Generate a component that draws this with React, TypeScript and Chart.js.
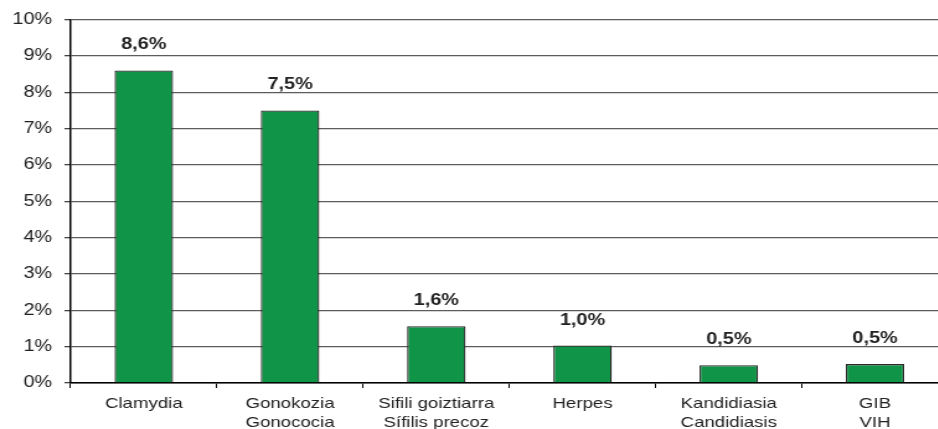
import React, { useEffect, useRef } from 'react';
import { Chart, registerables } from 'chart.js';

Chart.register(...registerables);

const categories: string[][] = [
  ['Clamydia'],
  ['Gonokozia', 'Gonococia'],
  ['Sifili goiztiarra', 'Sífilis precoz'],
  ['Herpes'],
  ['Kandidiasia', 'Candidiasis'],
  ['GIB', 'VIH'],
];
const values: number[] = [8.6, 7.5, 1.56, 1.03, 0.49, 0.52];
const yMin = 0;
const yMax = 10;
const yStep = 1;

const fmt = (v: number) => v.toFixed(1).replace('.', ',') + '%';

const STRETCH = 1.24;
const CSS_W = 950;
const CSS_H = 429;
const CANVAS_W = Math.round(CSS_W / STRETCH);
const FONT = '"Liberation Sans", Arial, sans-serif';

const valueLabels = {
  id: 'valueLabels',
  afterDatasetsDraw(chart: any) {
    const ctx = chart.ctx;
    const meta = chart.getDatasetMeta(0);
    ctx.save();
    ctx.font = `bold 16px ${FONT}`;
    ctx.fillStyle = '#222';
    ctx.textAlign = 'center';
    ctx.textBaseline = 'alphabetic';
    meta.data.forEach((bar: any, i: number) => {
      ctx.fillText(fmt(values[i]), bar.x, bar.y - 21);
    });
    ctx.restore();
  },
};

export default function App() {
  const ref = useRef<HTMLCanvasElement>(null);
  useEffect(() => {
    if (!ref.current) return;
    const chart = new Chart(ref.current, {
      type: 'bar',
      data: {
        labels: categories,
        datasets: [
          {
            data: values,
            backgroundColor: '#109447',
            borderColor: '#2a2a2a',
            borderWidth: 1.3,
            barPercentage: 0.4,
            categoryPercentage: 1,
          },
        ],
      },
      options: {
        responsive: false,
        animation: false,
        layout: { padding: { top: 17.5, right: 1.5, bottom: 0, left: 0 } },
        plugins: { legend: { display: false }, tooltip: { enabled: false } },
        scales: {
          x: {
            afterFit: (s: any) => { s.height = 46; },
            grid: { drawOnChartArea: false, tickLength: 5, color: '#000', offset: true },
            border: { color: '#000', width: 1.5 },
            ticks: { color: '#222', font: { family: FONT, size: 15, lineHeight: 1.3 }, padding: 6, maxRotation: 0, autoSkip: false },
          },
          y: {
            min: yMin,
            max: yMax,
            afterFit: (s: any) => { s.width = 57; },
            grid: { color: '#5c5c5c', lineWidth: 1.3, tickLength: 5, tickColor: '#444' },
            border: { color: '#000', width: 1.5 },
            ticks: { stepSize: yStep, color: '#222', font: { family: FONT, size: 16 }, padding: 10, callback: (v: any) => v + '%' },
          },
        },
      },
      plugins: [valueLabels],
    });
    return () => chart.destroy();
  }, []);
  return (
    <div style={{ position: 'fixed', left: 0, top: 0, width: 938, height: 429, overflow: 'hidden', background: '#fff' }}>
      <canvas ref={ref} width={CANVAS_W} height={CSS_H} style={{ width: CSS_W + 'px', height: CSS_H + 'px', display: 'block' }} />
    </div>
  );
}
